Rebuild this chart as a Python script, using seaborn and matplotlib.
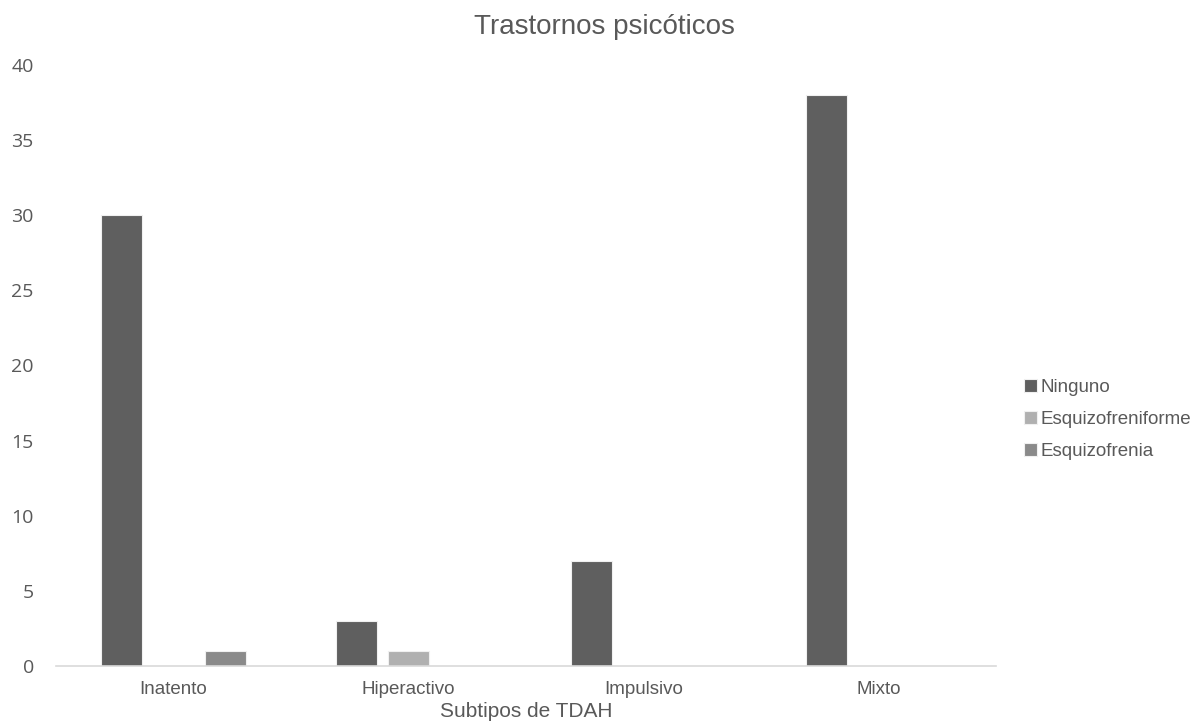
import matplotlib
matplotlib.use("Agg")
import matplotlib.pyplot as plt
import seaborn as sns
import pandas as pd

categories = ["Inatento", "Hiperactivo", "Impulsivo", "Mixto"]
series = ["Ninguno", "Esquizofreniforme", "Esquizofrenia"]
ninguno = [30, 3, 7, 38]
esquizofreniforme = [0, 1, 0, 0]
esquizofrenia = [1, 0, 0, 0]
colors = ["#5f5f5f", "#b0b0b0", "#8a8a8a"]

rows = []
for name, vals in zip(series, [ninguno, esquizofreniforme, esquizofrenia]):
    for cat, v in zip(categories, vals):
        rows.append({"Subtipo": cat, "Trastorno": name, "Valor": v})
df = pd.DataFrame(rows)

sns.set_theme(style="white")
plt.rcParams["font.family"] = ["Liberation Sans", "DejaVu Sans"]

fig = plt.figure(figsize=(12.02, 7.28), dpi=100)
ax = fig.add_axes([0.0466, 0.0852, 0.782, 0.8255])

sns.barplot(data=df, x="Subtipo", y="Valor", hue="Trastorno", order=categories,
            hue_order=series, palette=colors, width=0.664, gap=0.21,
            edgecolor="#f0f0f0", linewidth=0.8, ax=ax, legend=True)

ax.set_xlim(-0.5, 3.5)
ax.set_ylim(0, 40)
ax.set_yticks(range(0, 41, 5))
for s in ["top", "right", "left"]:
    ax.spines[s].set_visible(False)
ax.spines["bottom"].set_color("#d9d9d9")
ax.spines["bottom"].set_linewidth(1.2)
ax.tick_params(axis="both", length=0, colors="#595959")
ax.tick_params(axis="y", pad=16, labelsize=14)
ax.tick_params(axis="x", pad=11, labelsize=13.5)
for lab in ax.get_yticklabels():
    lab.set_fontfamily(["Open Sans", "DejaVu Sans"])

ax.set_xlabel("Subtipos de TDAH", fontsize=15, color="#595959", labelpad=3)
ax.set_ylabel("")
fig.text(0.503, 0.963, "Trastornos psicóticos", fontsize=20, color="#595959",
         ha="center", va="center")

leg = ax.legend(loc="center left", bbox_to_anchor=(1.012, 0.41), frameon=False,
                fontsize=13.5, labelcolor="#595959", handlelength=0.7,
                handleheight=0.7, handletextpad=0.15, labelspacing=0.8)

fig.savefig("out.png", dpi=100)
